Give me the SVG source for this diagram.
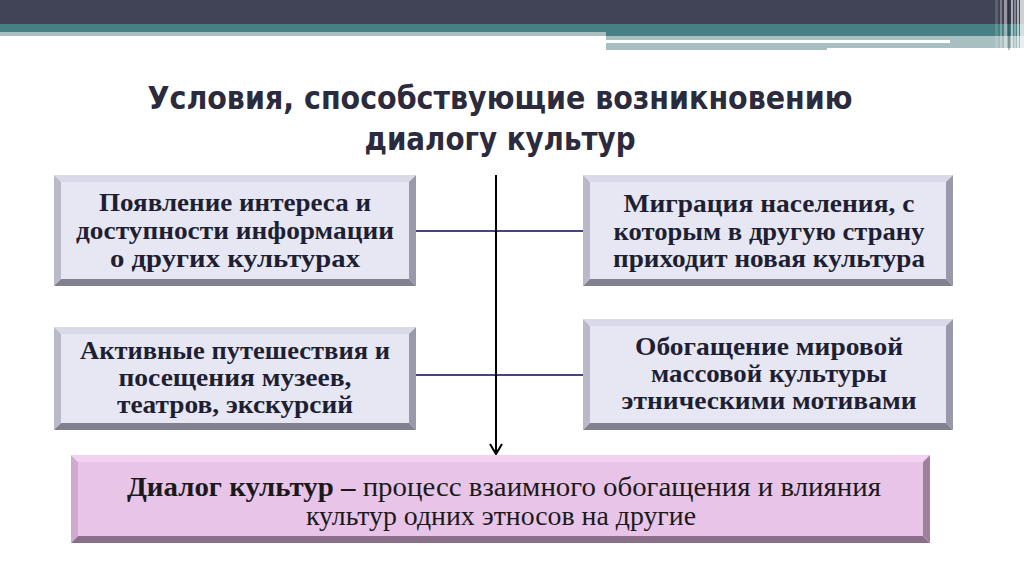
<svg xmlns="http://www.w3.org/2000/svg" width="1024" height="574" viewBox="0 0 1024 574">
<style>
.bt{font-family:"Liberation Serif","Times New Roman",serif;font-weight:bold;font-size:25px;fill:#1f1f33;text-anchor:middle}
.tt{font-family:"DejaVu Sans","Noto Sans",sans-serif;font-weight:bold;font-size:32px;fill:#2b2b3d;text-anchor:middle}
.ft{font-family:"Liberation Serif","Times New Roman",serif;font-size:27px;fill:#1a1a1a;text-anchor:middle}
.bvT{fill:#d9d9e7}.bvL{fill:#b9b9ca}.bvR{fill:#9999ab}.bvB{fill:#80808f}.bvF{fill:#e7e7f3}
.pkT{fill:#f1d3f1}.pkL{fill:#cfaccf}.pkR{fill:#9f819f}.pkB{fill:#8a6f8a}.pkF{fill:#e8c4e9}
.hc{stroke:#45457c;stroke-width:2;fill:none}
</style>
<rect width="1024" height="574" fill="#ffffff"/>
<g id="header">
<rect x="0" y="0" width="1024" height="24" fill="#414356"/>
<rect x="0" y="24" width="1024" height="12" fill="#467f84"/>
<rect x="0" y="32" width="606" height="4" fill="#a8bfc1"/>
<rect x="606" y="36" width="418" height="12" fill="#a8bfc1"/>
<rect x="606" y="40" width="344" height="3" fill="#ffffff"/>
<rect x="606" y="48" width="221" height="2" fill="#a8bfc1"/>
<rect x="995" y="0" width="3" height="50" fill="#ffffff" opacity="0.15"/>
<rect x="1000" y="0" width="2" height="50" fill="#ffffff" opacity="0.3"/>
<rect x="1004" y="0" width="3" height="50" fill="#ffffff" opacity="0.45"/>
<rect x="1008" y="0" width="2" height="50" fill="#000000" opacity="0.25"/>
<rect x="1011" y="0" width="2" height="50" fill="#ffffff" opacity="0.55"/>
<rect x="1014" y="0" width="2" height="50" fill="#ffffff" opacity="0.35"/>
<rect x="1017" y="0" width="2" height="50" fill="#ffffff" opacity="0.6"/>
<rect x="1020" y="0" width="4" height="50" fill="#ffffff" opacity="0.75"/>
</g>
<g id="title">
<text class="tt" x="500" y="109" textLength="705" lengthAdjust="spacingAndGlyphs">Условия, способствующие возникновению</text>
<text class="tt" x="500" y="150" textLength="271" lengthAdjust="spacingAndGlyphs">диалогу культур</text>
</g>
<g id="connectors">
<line class="hc" x1="416" y1="231" x2="584" y2="231"/>
<line class="hc" x1="416" y1="375" x2="584" y2="375"/>
<line x1="496" y1="175" x2="496" y2="453" stroke="#000" stroke-width="2"/>
<polyline points="490,444 496,454 502,444" fill="none" stroke="#000" stroke-width="2"/>
</g>
<g id="box1">
<polygon class="bvT" points="54,175 416,175 409,182 61,182"/>
<polygon class="bvL" points="54,175 61,182 61,279 54,286"/>
<polygon class="bvR" points="416,175 416,286 409,279 409,182"/>
<polygon class="bvB" points="54,286 61,279 409,279 416,286"/>
<rect class="bvF" x="61" y="182" width="348" height="97"/>
<text class="bt" x="235" y="211" textLength="272" lengthAdjust="spacingAndGlyphs">Появление интереса и</text>
<text class="bt" x="235" y="239" textLength="318" lengthAdjust="spacingAndGlyphs">доступности информации</text>
<text class="bt" x="235" y="267" textLength="250" lengthAdjust="spacingAndGlyphs">о других культурах</text>
</g>
<g id="box2">
<polygon class="bvT" points="583,175 953,175 946,182 590,182"/>
<polygon class="bvL" points="583,175 590,182 590,279 583,286"/>
<polygon class="bvR" points="953,175 953,286 946,279 946,182"/>
<polygon class="bvB" points="583,286 590,279 946,279 953,286"/>
<rect class="bvF" x="590" y="182" width="356" height="97"/>
<text class="bt" x="769" y="212" textLength="291" lengthAdjust="spacingAndGlyphs">Миграция населения, с</text>
<text class="bt" x="769" y="240" textLength="311" lengthAdjust="spacingAndGlyphs">которым в другую страну</text>
<text class="bt" x="769" y="267" textLength="312" lengthAdjust="spacingAndGlyphs">приходит новая культура</text>
</g>
<g id="box3">
<polygon class="bvT" points="54,327 416,327 409,334 61,334"/>
<polygon class="bvL" points="54,327 61,334 61,423 54,430"/>
<polygon class="bvR" points="416,327 416,430 409,423 409,334"/>
<polygon class="bvB" points="54,430 61,423 409,423 416,430"/>
<rect class="bvF" x="61" y="334" width="348" height="89"/>
<text class="bt" x="235" y="359" textLength="310" lengthAdjust="spacingAndGlyphs">Активные путешествия и</text>
<text class="bt" x="235" y="386" textLength="233" lengthAdjust="spacingAndGlyphs">посещения музеев,</text>
<text class="bt" x="235" y="413" textLength="236" lengthAdjust="spacingAndGlyphs">театров, экскурсий</text>
</g>
<g id="box4">
<polygon class="bvT" points="583,319 953,319 946,326 590,326"/>
<polygon class="bvL" points="583,319 590,326 590,423 583,430"/>
<polygon class="bvR" points="953,319 953,430 946,423 946,326"/>
<polygon class="bvB" points="583,430 590,423 946,423 953,430"/>
<rect class="bvF" x="590" y="326" width="356" height="97"/>
<text class="bt" x="769" y="355" textLength="268" lengthAdjust="spacingAndGlyphs">Обогащение мировой</text>
<text class="bt" x="769" y="382" textLength="236" lengthAdjust="spacingAndGlyphs">массовой культуры</text>
<text class="bt" x="769" y="409" textLength="295" lengthAdjust="spacingAndGlyphs">этническими мотивами</text>
</g>
<g id="definition">
<polygon class="pkT" points="71,455 930,455 923,462 78,462"/>
<polygon class="pkL" points="71,455 78,462 78,536 71,543"/>
<polygon class="pkR" points="930,455 930,543 923,536 923,462"/>
<polygon class="pkB" points="71,543 78,536 923,536 930,543"/>
<rect class="pkF" x="78" y="462" width="845" height="74"/>
<text class="ft" x="504" y="496" textLength="754" lengthAdjust="spacingAndGlyphs"><tspan font-weight="bold">Диалог культур –</tspan> процесс взаимного обогащения и влияния</text>
<text class="ft" x="501" y="525" textLength="390" lengthAdjust="spacingAndGlyphs">культур одних этносов на другие</text>
</g>
</svg>
